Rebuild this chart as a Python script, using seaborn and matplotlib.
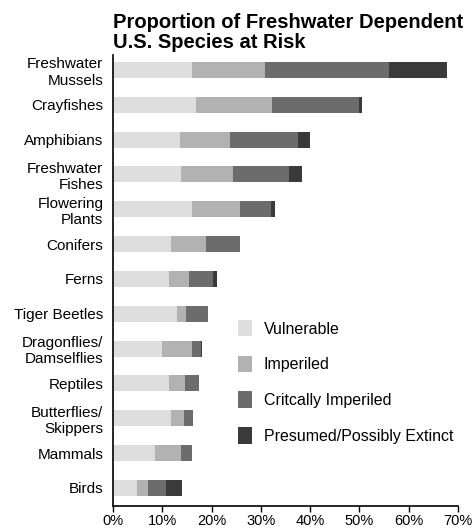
import numpy as np
import pandas as pd
import seaborn as sns
import matplotlib.pyplot as plt
from matplotlib.patches import Patch

# species groups and share of species in each risk class (%)
groups = ["Freshwater\nMussels", "Crayfishes", "Amphibians", "Freshwater\nFishes",
          "Flowering\nPlants", "Conifers", "Ferns", "Tiger Beetles",
          "Dragonflies/\nDamselflies", "Reptiles", "Butterflies/\nSkippers",
          "Mammals", "Birds"]
vulnerable = [16.0, 16.8, 13.6, 13.7, 16.1, 11.8, 11.4, 13.0, 9.9, 11.4, 11.8, 8.6, 4.9]
imperiled = [14.8, 15.4, 10.1, 10.7, 9.6, 7.0, 4.0, 1.9, 6.1, 3.2, 2.7, 5.1, 2.3]
critical = [25.2, 17.7, 13.8, 11.4, 6.3, 7.0, 4.9, 4.4, 1.8, 2.9, 1.7, 2.3, 3.6]
extinct = [11.7, 0.7, 2.5, 2.5, 0.8, 0.0, 0.7, 0.0, 0.2, 0.0, 0.1, 0.0, 3.2]

classes = ["Vulnerable", "Imperiled", "Critcally Imperiled", "Presumed/Possibly Extinct"]
colors = ["#dedede", "#b2b2b2", "#6c6c6c", "#3a3a3a"]

df = pd.DataFrame({"group": groups, "Vulnerable": vulnerable, "Imperiled": imperiled,
                   "Critical": critical, "Extinct": extinct})
df["c1"] = df["Vulnerable"]
df["c2"] = df["c1"] + df["Imperiled"]
df["c3"] = df["c2"] + df["Critical"]
df["c4"] = df["c3"] + df["Extinct"]

sns.set_style("white")
plt.rcParams["font.family"] = ["Liberation Sans", "DejaVu Sans"]
plt.rcParams["text.color"] = "black"
plt.rcParams["xtick.color"] = "black"
plt.rcParams["ytick.color"] = "black"

fig, ax = plt.subplots(figsize=(4.73, 5.31), dpi=100)
plt.subplots_adjust(left=113/473, right=458/473, top=1-55/531, bottom=1-506/531)

# stacked bars: draw cumulative totals from largest to smallest
for col, c in zip(["c4", "c3", "c2", "c1"], colors[::-1]):
    sns.barplot(data=df, x=col, y="group", color=c, width=0.46, ax=ax,
                saturation=1, edgecolor="none", orient="h")

ax.set_xlim(0, 70)
ax.set_ylim(12.52, -0.43)
ax.set_xticks(range(0, 71, 10))
ax.set_xticklabels([f"{t}%" for t in range(0, 71, 10)], fontsize=10.5)
ax.tick_params(axis="x", direction="out", length=4, width=1, color="black", bottom=True, pad=2)
ax.tick_params(axis="y", length=0, labelsize=11, pad=7)
for lab in ax.get_yticklabels():
    lab.set_horizontalalignment("right")
    lab.set_multialignment("right")
ax.set_xlabel("")
ax.set_ylabel("")
sns.despine(ax=ax)
ax.spines["left"].set_color("black")
ax.spines["bottom"].set_color("black")
ax.spines["left"].set_linewidth(1.2)
ax.spines["bottom"].set_linewidth(1.2)

ax.set_title("Proportion of Freshwater Dependent\nU.S. Species at Risk", loc="left",
             fontsize=14.5, fontweight="bold", pad=5, linespacing=1.05)

handles = [Patch(facecolor=c, edgecolor="none") for c in colors]
fig.legend(handles, classes, loc="upper left", bbox_to_anchor=(238/473, 1-320/531),
           frameon=False, fontsize=11.5, handlelength=0.9, handleheight=1.2,
           labelspacing=1.2, handletextpad=0.7, borderpad=0, borderaxespad=0)

plt.savefig("out.png", dpi=100)
